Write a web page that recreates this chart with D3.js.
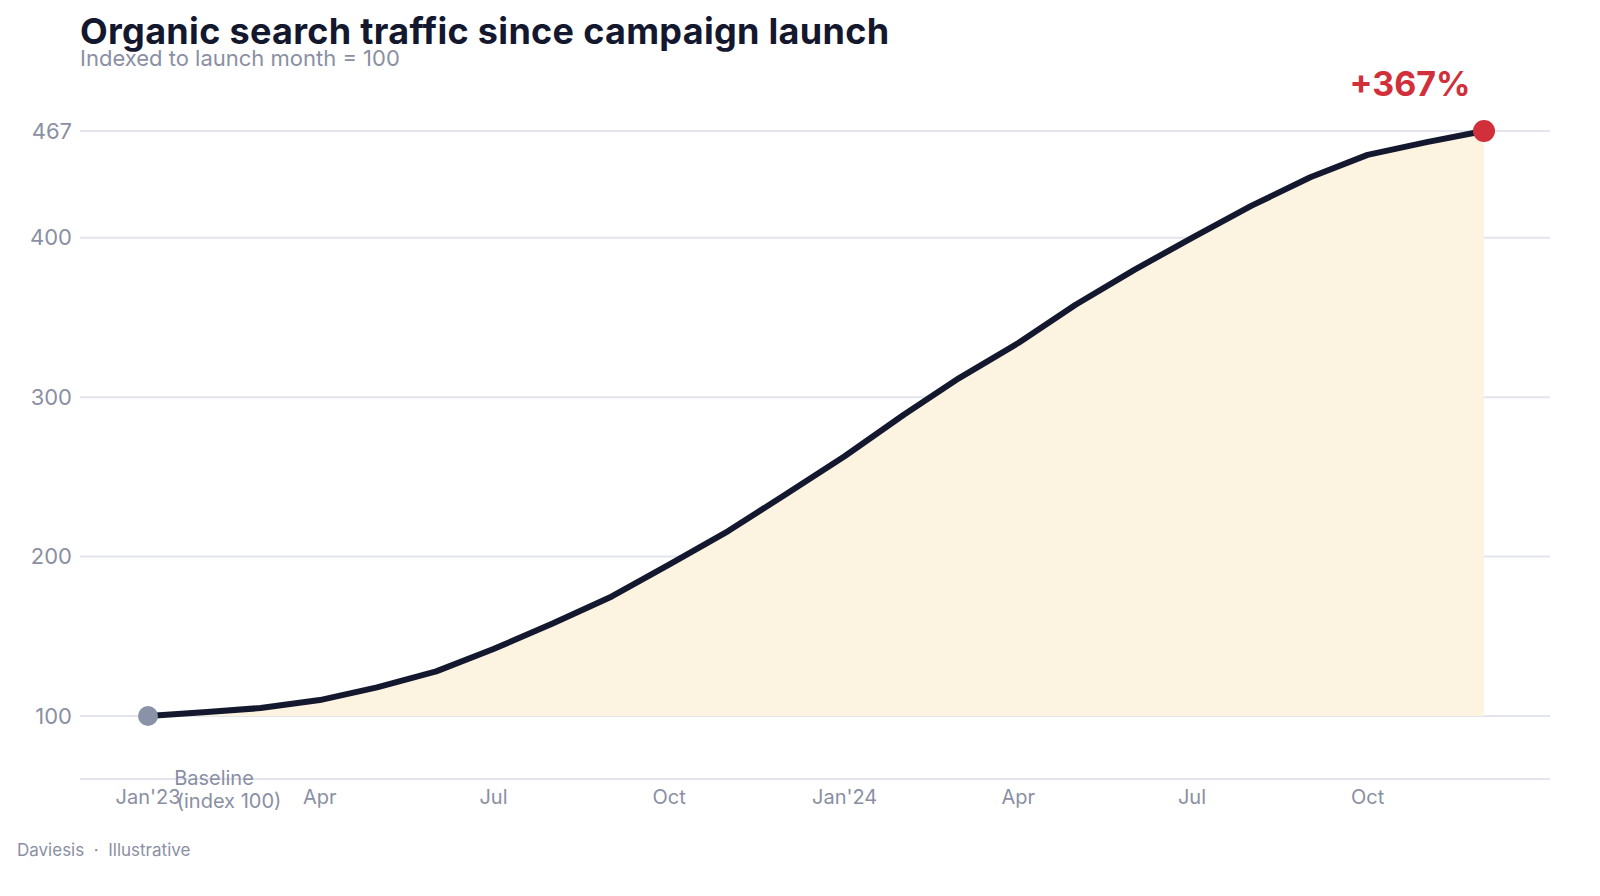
<!DOCTYPE html>
<html><head><meta charset="utf-8">
<script src="https://cdn.jsdelivr.net/npm/d3@7"></script>
<style>body{margin:0;background:#fff;font-family:Inter,"DejaVu Sans",sans-serif}</style>
</head><body><div class="chart"></div>
<script>
const values = [100,102.5,105,110,118,128,142,158,175,195,216,239,263,289,312,334,358,380,400,420,438,452,460,467];
const data = values.map((v, i) => ({ date: new Date(2023, i, 1), value: v }));

const W = 1600, H = 896;
const svg = d3.select(".chart").append("svg").attr("width", W).attr("height", H);

const x = d3.scaleTime([new Date(2023, 0, 1), new Date(2024, 11, 1)], [148, 1484]);
const y = d3.scaleLinear([100, 467], [716, 131]);

// grid
const ticks = [100, 200, 300, 400, 467];
svg.append("g").selectAll("line").data(ticks).join("line")
  .attr("x1", 80).attr("x2", 1550).attr("y1", d => y(d)).attr("y2", d => y(d))
  .attr("stroke", "#e3e5ee").attr("stroke-width", 2);
svg.append("g").selectAll("text").data(ticks).join("text")
  .attr("x", 72).attr("y", d => y(d)).attr("dy", "0.35em").attr("text-anchor", "end")
  .attr("fill", "#8a8fa3").attr("font-size", 22).text(d => d);

// x axis
svg.append("line").attr("x1", 80).attr("x2", 1550).attr("y1", 779).attr("y2", 779)
  .attr("stroke", "#e3e5ee").attr("stroke-width", 2);
const xt = d3.range(0, 24, 3).map(i => new Date(2023, i, 1));
svg.append("g").selectAll("text").data(xt).join("text")
  .attr("x", d => x(d)).attr("y", 804).attr("text-anchor", "middle")
  .attr("fill", "#8a8fa3").attr("font-size", 20)
  .text(d => d.getMonth() === 0 ? "Jan'" + String(d.getFullYear()).slice(2) : d3.timeFormat("%b")(d));

// area + line
svg.append("path").datum(data)
  .attr("d", d3.area().x(d => x(d.date)).y0(y(100)).y1(d => y(d.value)))
  .attr("fill", "#fdf3e1");
svg.append("path").datum(data)
  .attr("d", d3.line().x(d => x(d.date)).y(d => y(d.value)))
  .attr("fill", "none").attr("stroke", "#14182f").attr("stroke-width", 6)
  .attr("stroke-linejoin", "round").attr("stroke-linecap", "round");

const first = data[0], last = data[data.length - 1];
svg.append("circle").attr("cx", x(first.date)).attr("cy", y(first.value)).attr("r", 10).attr("fill", "#8a92a8");
svg.append("circle").attr("cx", x(last.date)).attr("cy", y(last.value)).attr("r", 11).attr("fill", "#d12f3a");
svg.append("text").attr("x", x(last.date) - 74).attr("y", 96).attr("text-anchor", "middle")
  .attr("fill", "#d12f3a").attr("font-size", 34).attr("font-weight", 700)
  .text("+" + Math.round(last.value - 100) + "%");

const base = svg.append("text").attr("text-anchor", "middle").attr("fill", "#8a8fa3").attr("font-size", 20);
base.append("tspan").attr("x", 214).attr("y", 785).text("Baseline");
base.append("tspan").attr("x", 229).attr("y", 808).text("(index 100)");

// titles
svg.append("text").attr("x", 80).attr("y", 44).attr("fill", "#14182f")
  .attr("font-size", 36).attr("font-weight", 700).attr("letter-spacing", 0.3)
  .text("Organic search traffic since campaign launch");
svg.append("text").attr("x", 80).attr("y", 66).attr("fill", "#8a8fa3")
  .attr("font-size", 22).text("Indexed to launch month = 100");
svg.append("text").attr("x", 17).attr("y", 856).attr("fill", "#8a8fa3")
  .attr("font-size", 17).attr("xml:space", "preserve").text("Daviesis  ·  Illustrative");
</script></body></html>
